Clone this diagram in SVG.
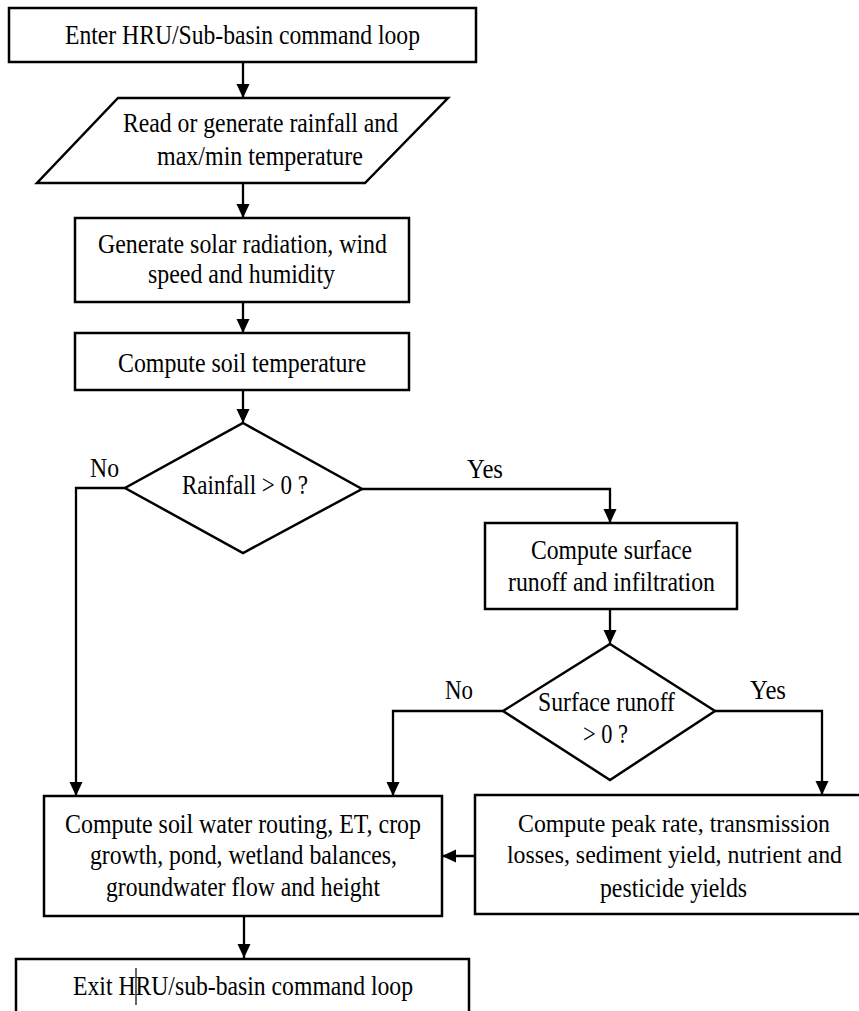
<svg xmlns="http://www.w3.org/2000/svg" width="859" height="1011" viewBox="0 0 859 1011">
<defs>
<style>
.box{fill:#fff;stroke:#000;stroke-width:2.5}
.t{font-family:'Liberation Serif','DejaVu Serif',serif;font-size:26.5px;fill:#000;text-anchor:middle}
.s{font-size:25px}
.l{font-family:'Liberation Serif','DejaVu Serif',serif;font-size:26.5px;fill:#000}
.c{fill:none;stroke:#000;stroke-width:2.3}
</style>
<marker id="ah" markerUnits="userSpaceOnUse" markerWidth="14" markerHeight="14" refX="14" refY="7" orient="auto">
<path d="M0,0.5 L14,7 L0,13.5 z" fill="#000"/>
</marker>
</defs>
<rect width="859" height="1011" fill="#fff"/>
<g id="connectors">
<path class="c" d="M243,62 V98" marker-end="url(#ah)"/>
<path class="c" d="M243,183 V218" marker-end="url(#ah)"/>
<path class="c" d="M243,302 V333" marker-end="url(#ah)"/>
<path class="c" d="M243,390 V423" marker-end="url(#ah)"/>
<path class="c" d="M125,488 H76 V796" marker-end="url(#ah)"/>
<path class="c" d="M362,489 H610 V523" marker-end="url(#ah)"/>
<path class="c" d="M610,609 V644" marker-end="url(#ah)"/>
<path class="c" d="M503,711 H393 V796" marker-end="url(#ah)"/>
<path class="c" d="M715,711 H822 V795" marker-end="url(#ah)"/>
<path class="c" d="M475,856 H442" marker-end="url(#ah)"/>
<path class="c" d="M244,916 V958" marker-end="url(#ah)"/>
<text class="l" x="90" y="477" textLength="29" lengthAdjust="spacingAndGlyphs">No</text>
<text class="l" x="467" y="478" textLength="36" lengthAdjust="spacingAndGlyphs">Yes</text>
<text class="l" x="445" y="699" textLength="28" lengthAdjust="spacingAndGlyphs">No</text>
<text class="l" x="750" y="699" textLength="36" lengthAdjust="spacingAndGlyphs">Yes</text>
</g>
<g id="enter">
<rect class="box" x="9" y="8" width="467" height="54"/>
<text class="t" x="242.5" y="44" textLength="355" lengthAdjust="spacingAndGlyphs">Enter HRU/Sub-basin command loop</text>
</g>
<g id="read">
<polygon class="box" points="118,98 448,98 365,183 37,183"/>
<text class="t" x="260.5" y="132" textLength="275" lengthAdjust="spacingAndGlyphs">Read or generate rainfall and</text>
<text class="t" x="260" y="165" textLength="206" lengthAdjust="spacingAndGlyphs">max/min temperature</text>
</g>
<g id="solar">
<rect class="box" x="75" y="218" width="334" height="84"/>
<text class="t" x="242.5" y="253" textLength="289" lengthAdjust="spacingAndGlyphs">Generate solar radiation, wind</text>
<text class="t" x="241.5" y="283" textLength="187" lengthAdjust="spacingAndGlyphs">speed and humidity</text>
</g>
<g id="soiltemp">
<rect class="box" x="75" y="333" width="334" height="57"/>
<text class="t" x="242" y="372" textLength="248" lengthAdjust="spacingAndGlyphs">Compute soil temperature</text>
</g>
<g id="rainfall">
<polygon class="box" points="243,423 362,489 243,553 125,488"/>
<text class="t" x="245" y="494" textLength="126" lengthAdjust="spacingAndGlyphs">Rainfall &gt; 0 ?</text>
</g>
<g id="surface">
<rect class="box" x="485" y="523" width="252" height="86"/>
<text class="t" x="611.5" y="559" textLength="161" lengthAdjust="spacingAndGlyphs">Compute surface</text>
<text class="t" x="611.5" y="591" textLength="207" lengthAdjust="spacingAndGlyphs">runoff and infiltration</text>
</g>
<g id="runoffcheck">
<polygon class="box" points="610,644 715,711 610,780 503,711"/>
<text class="t" x="606.5" y="711" textLength="137" lengthAdjust="spacingAndGlyphs">Surface runoff</text>
<text class="t" x="605.5" y="743" textLength="45" lengthAdjust="spacingAndGlyphs">&gt; 0 ?</text>
</g>
<g id="soilwater">
<rect class="box" x="44" y="796" width="398" height="120"/>
<text class="t" x="243" y="833" textLength="356" lengthAdjust="spacingAndGlyphs">Compute soil water routing, ET, crop</text>
<text class="t" x="243.5" y="864" textLength="307" lengthAdjust="spacingAndGlyphs">growth, pond, wetland balances,</text>
<text class="t" x="243" y="896" textLength="274" lengthAdjust="spacingAndGlyphs">groundwater flow and height</text>
</g>
<g id="peak">
<rect x="475" y="795" width="384" height="119" fill="#fff"/>
<path d="M859,795 H475 V914 H859" fill="none" stroke="#000" stroke-width="2.5"/>
<text class="t s" x="674" y="832" textLength="312" lengthAdjust="spacingAndGlyphs">Compute peak rate, transmission</text>
<text class="t s" x="674.5" y="863" textLength="335" lengthAdjust="spacingAndGlyphs">losses, sediment yield, nutrient and</text>
<text class="t" x="673.5" y="897" textLength="147" lengthAdjust="spacingAndGlyphs">pesticide yields</text>
</g>
<g id="exit">
<rect x="16" y="959" width="453" height="52" fill="#fff"/>
<path d="M16,1011 V959 H469 V1011" fill="none" stroke="#000" stroke-width="2.5"/>
<text class="t" x="243" y="995" textLength="340" lengthAdjust="spacingAndGlyphs">Exit HRU/sub-basin command loop</text>
<line x1="136" y1="968" x2="136" y2="1005" stroke="#000" stroke-width="1.2"/>
</g>
</svg>
